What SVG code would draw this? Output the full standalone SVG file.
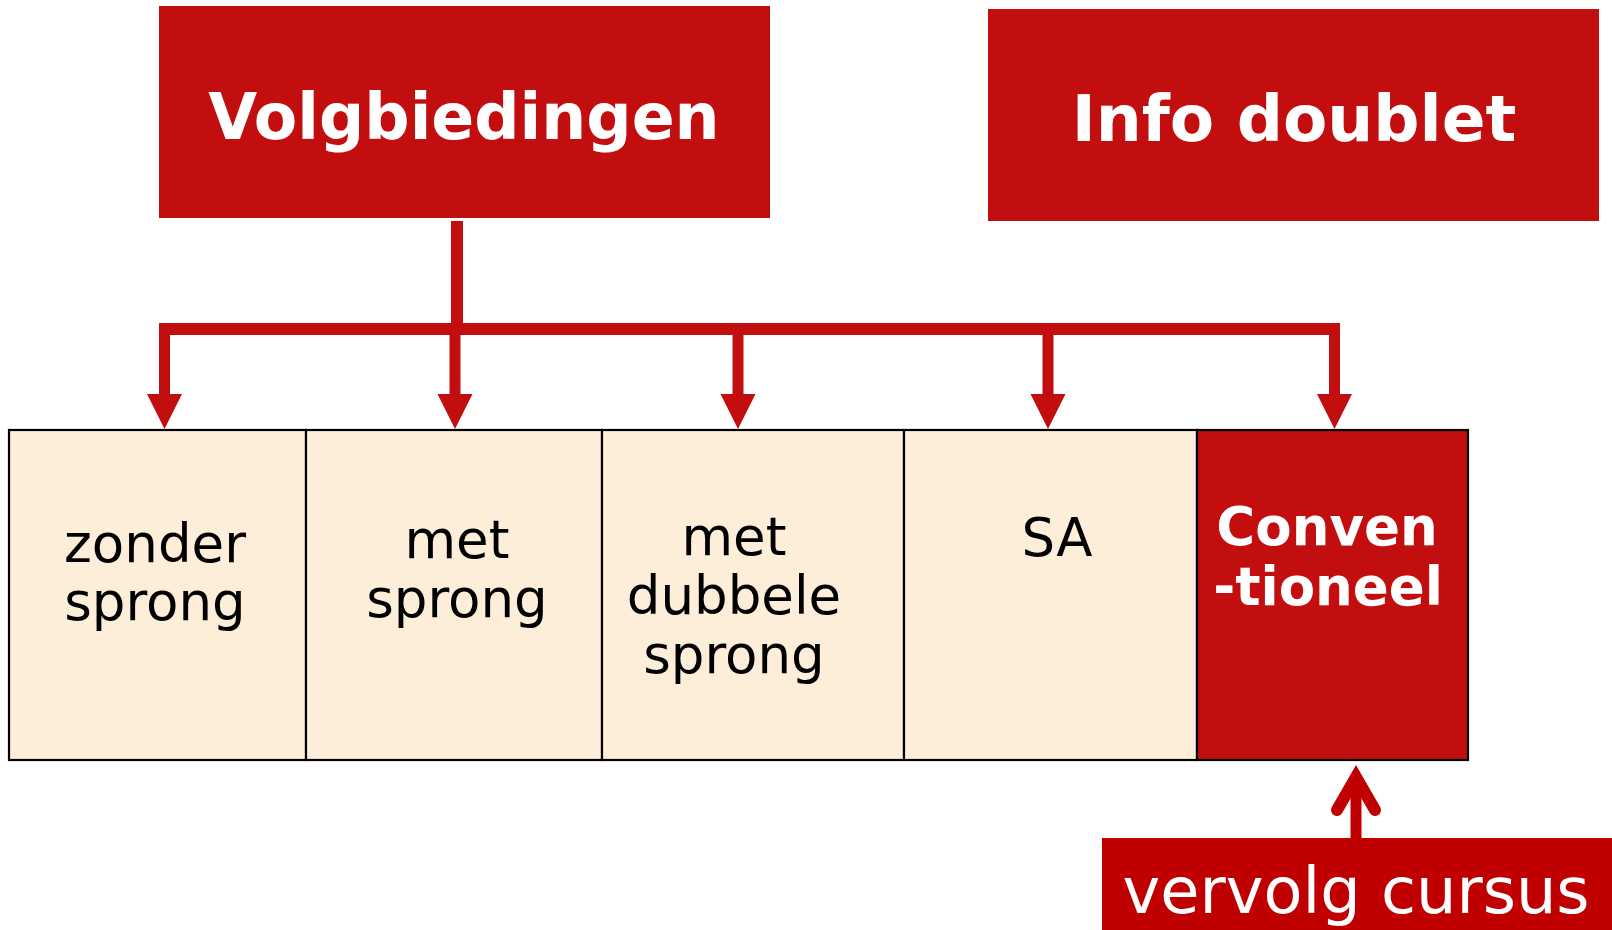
<svg xmlns="http://www.w3.org/2000/svg" width="1612" height="930" viewBox="0 0 1612 930">
<style>
.red{fill:#C30E10}
.cell{fill:#FDEEDA;stroke:#000;stroke-width:2.2}
.cellred{fill:#C30E10;stroke:#000;stroke-width:2.2}
.title{font-family:"DejaVu Sans",Verdana,sans-serif;font-weight:bold;fill:#fff;text-anchor:middle}
.lbl{font-family:"DejaVu Sans",Verdana,sans-serif;font-size:53px;fill:#000;text-anchor:middle}
.lblw{font-family:"DejaVu Sans",Verdana,sans-serif;font-size:53px;font-weight:bold;fill:#fff;text-anchor:middle}
.conn{fill:#C30E10}
</style>
<rect width="1612" height="930" fill="#fff"/>
<g id="volgbiedingen">
<rect class="red" x="159" y="6" width="611" height="212"/>
<text class="title" x="464" y="139" font-size="63.3">Volgbiedingen</text>
</g>
<g id="info-doublet">
<rect class="red" x="988" y="9" width="611" height="212"/>
<text class="title" x="1294" y="141" font-size="64.6">Info doublet</text>
</g>
<g id="zonder-sprong">
<rect class="cell" x="9" y="430" width="297" height="330"/>
<text class="lbl" x="155" y="562">zonder</text>
<text class="lbl" x="155" y="620">sprong</text>
</g>
<g id="met-sprong">
<rect class="cell" x="306" y="430" width="296" height="330"/>
<text class="lbl" x="457" y="558">met</text>
<text class="lbl" x="457" y="617">sprong</text>
</g>
<g id="met-dubbele-sprong">
<rect class="cell" x="602" y="430" width="302" height="330"/>
<text class="lbl" x="734" y="555">met</text>
<text class="lbl" x="734" y="614">dubbele</text>
<text class="lbl" x="734" y="673">sprong</text>
</g>
<g id="sa">
<rect class="cell" x="904" y="430" width="293" height="330"/>
<text class="lbl" x="1057" y="556">SA</text>
</g>
<g id="conventioneel">
<rect class="cellred" x="1197" y="430" width="271" height="330"/>
<text class="lblw" x="1327" y="545">Conven</text>
<text class="lblw" x="1328" y="605">-tioneel</text>
</g>
<g id="vervolg-cursus">
<rect x="1102" y="838" width="510" height="92" fill="#C00000"/>
<text x="1356" y="913" font-family="DejaVu Sans,Verdana,sans-serif" font-size="63.8" fill="#fff" text-anchor="middle">vervolg cursus</text>
</g>
<g id="connectors">
<rect class="conn" x="451" y="221" width="12" height="114"/>
<rect class="conn" x="159" y="323" width="1181" height="12"/>
<rect class="conn" x="159" y="323" width="11" height="72"/>
<polygon class="conn" points="147,394 182,394 164.5,429"/>
<rect class="conn" x="449.5" y="329" width="11" height="66"/>
<polygon class="conn" points="437.5,394 472.5,394 455,429"/>
<rect class="conn" x="732.5" y="329" width="11" height="66"/>
<polygon class="conn" points="720.5,394 755.5,394 738,429"/>
<rect class="conn" x="1042.5" y="329" width="11" height="66"/>
<polygon class="conn" points="1030.5,394 1065.5,394 1048,429"/>
<rect class="conn" x="1329" y="329" width="11" height="66"/>
<polygon class="conn" points="1317,394 1352,394 1334.5,429"/>
<rect x="1350.5" y="780" width="11" height="59" fill="#C00000"/>
<polyline points="1337,810 1356,777 1375,810" fill="none" stroke="#C00000" stroke-width="12" stroke-linecap="round" stroke-linejoin="miter" stroke-miterlimit="10"/>
</g>
</svg>
